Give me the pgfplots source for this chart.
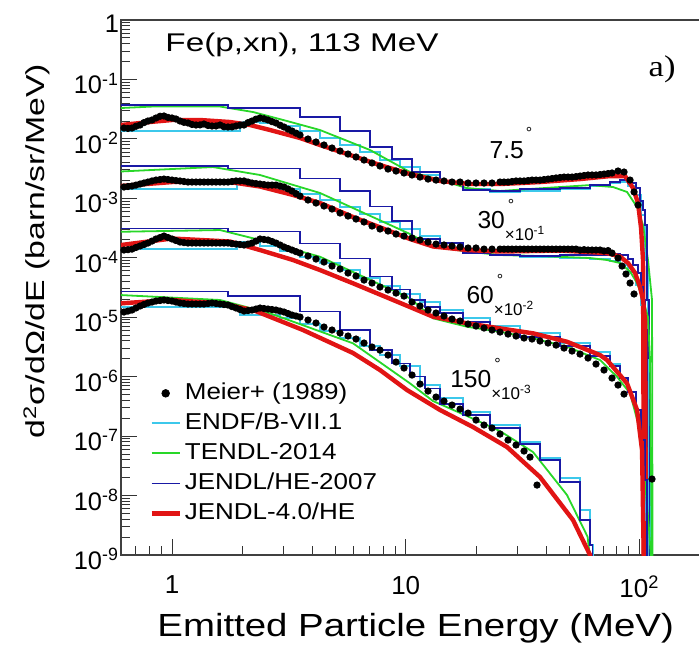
\documentclass[border=0pt]{standalone}
\usepackage{fontspec}
\setmainfont{Liberation Sans}
\newfontfamily\serifF{Liberation Serif}
\usepackage{graphicx}
\usepackage{pgfplots}
\pgfplotsset{compat=1.18}
\usetikzlibrary{calc}
\definecolor{cENDF}{RGB}{60,200,235}
\definecolor{cTENDL}{RGB}{40,215,40}
\definecolor{cJHE}{RGB}{25,25,165}
\definecolor{cJ4}{RGB}{225,20,20}
\newcommand{\W}[2]{\scalebox{#1}[1]{#2}}
\begin{document}
\begin{tikzpicture}
\begin{axis}[
  name=ax,
  xmode=log, ymode=log,
  scale only axis, width=290pt, height=267.5pt,
  xmin=0.605, xmax=183.4, ymin=1e-9, ymax=1,
  axis line style={black!75, line width=0.6pt},
  xtick={1,10,100}, xticklabels={1,10,10\textsuperscript{2}},
  minor xtick={0.7,0.8,0.9,2,3,4,5,6,7,8,9,20,30,40,50,60,70,80,90},
  ytick={1e-9,1e-8,1e-7,1e-6,1e-5,1e-4,1e-3,1e-2,1e-1,1},
  yticklabels={10\textsuperscript{-9},10\textsuperscript{-8},10\textsuperscript{-7},10\textsuperscript{-6},10\textsuperscript{-5},10\textsuperscript{-4},10\textsuperscript{-3},10\textsuperscript{-2},10\textsuperscript{-1},1},
  minor ytick={2e-9,3e-9,4e-9,5e-9,6e-9,7e-9,8e-9,9e-9,2e-8,3e-8,4e-8,5e-8,6e-8,7e-8,8e-8,9e-8,2e-7,3e-7,4e-7,5e-7,6e-7,7e-7,8e-7,9e-7,2e-6,3e-6,4e-6,5e-6,6e-6,7e-6,8e-6,9e-6,2e-5,3e-5,4e-5,5e-5,6e-5,7e-5,8e-5,9e-5,2e-4,3e-4,4e-4,5e-4,6e-4,7e-4,8e-4,9e-4,2e-3,3e-3,4e-3,5e-3,6e-3,7e-3,8e-3,9e-3,2e-2,3e-2,4e-2,5e-2,6e-2,7e-2,8e-2,9e-2,0.2,0.3,0.4,0.5,0.6,0.7,0.8,0.9},
  xtick pos=left, ytick pos=left, tick align=inside,
  major tick length=8pt, minor tick length=4.5pt,
  tick style={black!80, line width=0.5pt},
  xticklabel style={font=\fontsize{13}{14}\selectfont, yshift=-7pt},
  yticklabel style={font=\fontsize{12.7}{14}\selectfont, xshift=2.5pt, yshift=-2pt},
  xlabel={\W{1.2}{Emitted Particle Energy (MeV)}},
  xlabel style={at={(axis description cs:0.508,-0.136)}, anchor=center, font=\fontsize{16}{17}\selectfont},
  ylabel={\W{1.3}{d\textsuperscript{2}σ/dΩ/dE (barn/sr/MeV)}},
  ylabel style={at={(axis description cs:-0.145,0.568)}, anchor=center, font=\fontsize{13}{14}\selectfont},
  legend image code/.code={\draw[#1] (0pt,0pt) -- (14pt,0pt);},
  legend cell align=left,
  legend style={at={(0.0484,0.331)}, anchor=north west, draw=none, fill=none,
    inner sep=0pt, row sep=0pt, font=\fontsize{11.5}{12}\selectfont,
    nodes={inner sep=1.5pt, text height=9pt, text depth=3pt},
    /tikz/every even column/.append style={column sep=2.5pt}},
]
% ---------------- 7.5 deg ----------------
\addplot[only marks, mark=*, mark size=1.6pt, black,
  legend image code/.code={\fill[black] (7pt,0pt) circle (1.9pt);}] coordinates {
(0.623,0.01524)(0.674,0.01524)(0.730,0.01712)(0.789,0.01999)(0.854,0.02245)(0.924,0.02426)(1.000,0.02245)(1.082,0.01999)(1.171,0.01850)(1.267,0.01712)(1.370,0.01779)(1.483,0.01647)(1.605,0.01712)(1.736,0.01585)(1.879,0.01647)(2.033,0.01712)(2.200,0.01999)(2.380,0.02245)(2.575,0.02078)(2.786,0.01850)(3.015,0.01585)(3.262,0.01357)(3.530,0.01162)(3.819,0.00995)(4.132,0.00886)(4.471,0.00789)(4.838,0.00702)(5.236,0.00625)(5.665,0.00556)(6.129,0.00496)(6.632,0.00441)(7.176,0.00393)(7.762,0.00350)(8.401,0.00311)(9.089,0.00288)(9.833,0.00267)(10.64,0.00247)(11.51,0.00228)(12.46,0.00211)(13.48,0.00203)(14.58,0.00196)(15.78,0.00188)(17.08,0.00188)(18.48,0.00181)(19.99,0.00181)(21.63,0.00181)(23.40,0.00181)(25.32,0.00188)(27.40,0.00188)(29.65,0.00196)(32.08,0.00196)(34.71,0.00203)(37.56,0.00203)(40.64,0.00211)(43.97,0.00220)(47.58,0.00228)(51.48,0.00228)(55.69,0.00237)(60.26,0.00247)(65.20,0.00247)(70.55,0.00256)(76.34,0.00267)(80.98,0.00288)(85.93,0.00277)(91.18,0.00203)(94.84,0.00128)(98.63,0.000772)
(0.648,0.0150)(0.701,0.0163)(0.759,0.0188)(0.821,0.0208)(0.889,0.0240)(0.961,0.0230)(1.040,0.0216)(1.125,0.0190)(1.218,0.0175)(1.318,0.0172)(1.426,0.0168)(1.543,0.0165)(1.669,0.0160)(1.806,0.0159)(1.954,0.0170)(2.115,0.0188)(2.288,0.0215)(2.476,0.0218)(2.679,0.0195)(2.899,0.0170)(3.136,0.0146)(3.394,0.0125)
(26.34,0.00188)(28.50,0.00192)(30.84,0.00196)(33.38,0.00199)(36.11,0.00203)(39.07,0.00207)(42.27,0.00215)(45.74,0.00224)(49.49,0.00228)(53.55,0.00232)(57.94,0.00242)(62.69,0.00247)(67.85,0.00251)(73.39,0.00261)};
\addlegendentry{\W{1.13}{Meier+ (1989)}}
\addplot[const plot, cENDF, line width=1pt] coordinates {
(0.605,0.01357)(1.954,0.01923)(2.380,0.01850)(2.899,0.01647)(3.53,0.01357)(4.298,0.01035)(5.236,0.00789)(6.376,0.00601)(7.762,0.00441)(9.455,0.00336)(11.51,0.00247)(14.03,0.00188)(17.59,0.00143)(22.95,0.00128)(30.84,0.00133)(45.74,0.00143)(61.47,0.00161)(74.86,0.00181)(82.62,0.00188)(89.4,0.00161)(96.7,0.00114)(101.6,0.000524)(105.7,9.17e-5)(108.8,4.04e-7)(111.0,5e-10)};
\addlegendentry{\W{1.13}{ENDF/B-VII.1}}
\addplot[cTENDL, line width=0.9pt] coordinates {
(0.605,0.03307)(0.829,0.03505)(1.605,0.03505)(2.222,0.02833)(3.105,0.01999)(4.298,0.01410)(7.035,0.00650)(10.43,0.00277)(13.09,0.00220)(18.30,0.00149)(25.32,0.00133)(45.74,0.00155)(61.47,0.00167)(77.1,0.00155)(88.5,0.00128)(97.7,0.000714)(103.6,0.000356)(108.8,9.17e-5)(113.2,1.95e-5)(113.8,5e-10)};
\addlegendentry{\W{1.13}{TENDL-2014}}
\addplot[const plot, cJHE, line width=0.7pt] coordinates {
(0.605,0.03715)(1.736,0.03307)(3.53,0.02334)(5.236,0.01357)(7.035,0.00730)(8.738,0.00459)(10.64,0.00277)(14.03,0.00188)(17.59,0.00138)(22.95,0.00133)(30.84,0.00143)(45.74,0.00149)(61.47,0.00167)(74.86,0.00188)(82.62,0.00203)(89.4,0.00181)(96.7,0.00149)(100.6,0.000902)(103.6,0.000636)(105.7,0.000356)(107.8,1.95e-5)(109.9,5e-10)};
\addlegendentry{\W{1.13}{JENDL/HE-2007}}
\addplot[cJ4, line width=2.2pt, line join=round] coordinates {
(0.605,0.01712)(0.805,0.01923)(1.0,0.02078)(1.318,0.02078)(1.771,0.01923)(2.157,0.01712)(2.627,0.01410)(3.53,0.01035)(4.298,0.00789)(5.778,0.00536)(7.762,0.00363)(10.43,0.00256)(14.03,0.00196)(18.85,0.00174)(25.32,0.00174)(37.56,0.00188)(55.69,0.00211)(74.86,0.00237)(86.8,0.00237)(93.9,0.00149)(98.6,0.000834)(101.6,0.000317)(103.6,9.17e-5)(104.6,5e-10)};
\addlegendentry{\W{1.13}{JENDL-4.0/HE}}
% ---------------- 30 deg x 1e-1 ----------------
\addplot[only marks, mark=*, mark size=1.6pt, black, forget plot] coordinates {
(0.623,0.00155)(0.674,0.00161)(0.730,0.00174)(0.789,0.00188)(0.854,0.00203)(0.924,0.00211)(1.000,0.00203)(1.082,0.00196)(1.171,0.00188)(1.267,0.00188)(1.370,0.00188)(1.483,0.00188)(1.605,0.00188)(1.736,0.00188)(1.879,0.00196)(2.033,0.00196)(2.200,0.00181)(2.380,0.00174)(2.575,0.00167)(2.786,0.00167)(3.015,0.00155)(3.262,0.00133)(3.530,0.00109)(3.819,0.000937)(4.132,0.000834)(4.471,0.000743)(4.838,0.000661)(5.236,0.000566)(5.665,0.000504)(6.129,0.000449)(6.632,0.000400)(7.176,0.000342)(7.762,0.000305)(8.401,0.000282)(9.089,0.000251)(9.833,0.000232)(10.64,0.000215)(11.51,0.000199)(12.46,0.000184)(13.48,0.000170)(14.58,0.000164)(15.78,0.000158)(17.08,0.000152)(18.48,0.000146)(19.99,0.000146)(21.63,0.000140)(23.40,0.000140)(25.32,0.000140)(27.40,0.000140)(29.65,0.000140)(32.08,0.000140)(34.71,0.000140)(37.56,0.000140)(40.64,0.000140)(43.97,0.000140)(47.58,0.000140)(51.48,0.000140)(55.69,0.000135)(60.26,0.000135)(65.20,0.000135)(70.55,0.000130)(76.34,0.000120)(80.98,9.91e-5)(84.26,7.26e-5)(87.6,5.33e-5)(91.18,3.76e-5)(94.84,2.46e-5)
(0.648,0.00158)(0.701,0.00167)(0.759,0.00181)(0.821,0.00196)(0.889,0.00207)(0.961,0.00207)(1.040,0.00199)(1.125,0.00192)(1.218,0.00188)(1.318,0.00188)(1.426,0.00188)(1.543,0.00188)(1.669,0.00188)(1.806,0.00192)(1.954,0.00196)(2.115,0.00188)(2.288,0.00177)(2.476,0.00170)(2.679,0.00167)(2.899,0.00161)(3.136,0.00144)(3.394,0.00120)
(26.34,0.000140)(28.50,0.000140)(30.84,0.000140)(33.38,0.000140)(36.11,0.000140)(39.07,0.000140)(42.27,0.000140)(45.74,0.000140)(49.49,0.000140)(53.55,0.000140)(57.94,0.000137)(62.69,0.000135)(67.85,0.000135)(73.39,0.000132)};
\addplot[const plot, cENDF, line width=1pt, forget plot] coordinates {
(0.605,0.00143)(1.897,0.00181)(2.380,0.00167)(2.899,0.00143)(3.53,0.00118)(4.298,0.000937)(5.236,0.000714)(6.376,0.000545)(7.762,0.000400)(9.455,0.000305)(11.51,0.000232)(14.03,0.000177)(17.59,0.000135)(22.95,0.0001113)(30.84,0.0001030)(45.74,9.91e-5)(61.47,9.53e-5)(74.86,8.82e-5)(82.62,7.55e-5)(89.4,5.76e-5)(96.7,3.48e-5)(101.6,1.604e-5)(105.7,1.904e-6)(108.8,5e-10)};
\addplot[cTENDL, line width=0.9pt, forget plot] coordinates {
(0.605,0.00283)(1.497,0.00336)(2.380,0.00247)(4.298,0.00123)(10.43,0.000251)(13.09,0.000155)(18.30,0.0001274)(25.32,0.0001113)(37.56,0.0001070)(61.47,9.91e-5)(72.7,9.17e-5)(82.62,8.16e-5)(91.18,5.87e-5)(97.7,3.76e-5)(103.6,1.95e-5)(108.8,1.007e-5)(111.0,1.904e-6)(113.2,5e-10)};
\addplot[const plot, cJHE, line width=0.7pt, forget plot] coordinates {
(0.605,0.00350)(1.736,0.00320)(3.53,0.00217)(5.236,0.00133)(7.035,0.000722)(8.738,0.000415)(10.64,0.000207)(14.03,0.000177)(17.59,0.000120)(22.95,0.0001113)(30.84,0.0001070)(45.74,0.0001113)(61.47,0.0001113)(74.86,0.0001157)(82.62,0.0001113)(89.4,9.53e-5)(93.9,7.55e-5)(98.6,5.54e-5)(101.6,3.22e-5)(103.6,1.95e-5)(105.7,6.09e-6)(107.8,5e-10)};
\addplot[cJ4, line width=2.2pt, line join=round, forget plot] coordinates {
(0.605,0.00161)(1.0,0.00188)(1.771,0.00188)(2.380,0.00158)(3.295,0.00114)(4.298,0.000834)(5.95,0.000485)(8.318,0.000293)(10.43,0.000207)(13.09,0.000155)(18.30,0.000135)(25.32,0.0001274)(45.74,0.0001324)(72.7,0.000120)(82.62,0.0001050)(89.4,8.16e-5)(95.8,5.54e-5)(100.6,3.22e-5)(103.6,1.95e-5)(105.7,8.97e-6)(106.7,5e-10)};
% ---------------- 60 deg x 1e-2 ----------------
\addplot[only marks, mark=*, mark size=1.6pt, black, forget plot] coordinates {
(0.623,0.000135)(0.674,0.000140)(0.730,0.000158)(0.789,0.000177)(0.854,0.000207)(0.924,0.000232)(1.000,0.000207)(1.082,0.000184)(1.171,0.000177)(1.267,0.000177)(1.370,0.000177)(1.483,0.000177)(1.605,0.000177)(1.736,0.000177)(1.879,0.000170)(2.033,0.000164)(2.200,0.000177)(2.380,0.000207)(2.575,0.000199)(2.786,0.000177)(3.015,0.000152)(3.262,0.000135)(3.530,0.000120)(3.819,0.000107)(4.132,9.53e-5)(4.471,8.48e-5)(4.838,7.26e-5)(5.236,6.47e-5)(5.665,5.54e-5)(6.129,4.93e-5)(6.632,4.22e-5)(7.176,3.76e-5)(7.762,3.22e-5)(8.401,2.87e-5)(9.089,2.55e-5)(9.833,2.27e-5)(10.64,1.801e-5)(11.51,1.543e-5)(12.46,1.321e-5)(13.48,1.176e-5)(14.58,1.047e-5)(15.78,9.32e-6)(17.08,8.63e-6)(18.48,7.68e-6)(19.99,7.11e-6)(21.63,6.58e-6)(23.40,6.09e-6)(25.32,5.63e-6)(27.40,5.21e-6)(29.65,4.83e-6)(32.08,4.47e-6)(34.71,4.30e-6)(37.56,3.98e-6)(40.64,3.68e-6)(43.97,3.40e-6)(47.58,3.03e-6)(51.48,2.70e-6)(55.69,2.40e-6)(60.26,2.06e-6)(65.20,1.631e-6)(70.55,1.293e-6)(76.34,9.48e-7)(80.98,7.23e-7)(85.93,5.10e-7)(113.2,1.896e-8)
(0.648,0.000137)(0.701,0.000149)(0.759,0.000167)(0.821,0.000191)(0.889,0.000219)(0.961,0.000219)(1.040,0.000195)(1.125,0.000180)(1.218,0.000177)(1.318,0.000177)(1.426,0.000177)(1.543,0.000177)(1.669,0.000177)(1.806,0.000173)(1.954,0.000167)(2.115,0.000170)(2.288,0.000191)(2.476,0.000203)(2.679,0.000188)(2.899,0.000164)(3.136,0.000143)(3.394,0.000127)};
\addplot[const plot, cENDF, line width=1pt, forget plot] coordinates {
(0.605,0.000140)(1.897,0.000184)(2.380,0.000158)(2.899,0.000130)(3.53,0.0001030)(4.298,8.16e-5)(5.236,6.22e-5)(6.376,4.56e-5)(7.762,3.35e-5)(9.455,2.46e-5)(11.51,1.801e-5)(14.03,1.321e-5)(17.59,9.69e-6)(22.95,7.11e-6)(30.84,5.42e-6)(45.74,3.68e-6)(61.47,2.60e-6)(74.86,1.631e-6)(82.62,9.48e-7)(89.4,5.51e-7)(96.7,2.26e-7)(101.6,4.80e-8)(105.7,3.87e-9)(107.8,5e-10)};
\addplot[cTENDL, line width=0.9pt, forget plot] coordinates {
(0.605,0.000274)(1.605,0.000293)(2.380,0.000199)(4.298,0.0001042)(10.43,2.08e-5)(13.09,9.58e-6)(18.30,6.92e-6)(25.32,5.70e-6)(35.05,4.41e-6)(49.0,3.19e-6)(67.85,1.904e-6)(80.2,9.97e-7)(91.18,5.24e-7)(98.6,1.660e-7)(104.6,2.69e-8)(110,2.63e-9)(113.2,5e-10)};
\addplot[const plot, cJHE, line width=0.7pt, forget plot] coordinates {
(0.605,0.000313)(1.736,0.000274)(3.53,0.000175)(5.236,9.79e-5)(7.035,4.80e-5)(8.738,2.95e-5)(10.43,1.95e-5)(12.09,1.484e-5)(14.03,1.176e-5)(17.59,8.30e-6)(22.95,6.09e-6)(30.84,4.64e-6)(45.74,3.27e-6)(61.47,2.22e-6)(74.86,1.510e-6)(82.62,9.48e-7)(89.4,5.51e-7)(96.7,2.75e-7)(101.6,8.59e-8)(105.7,1.824e-8)(107.8,5e-10)};
\addplot[cJ4, line width=2.2pt, line join=round, forget plot] coordinates {
(0.605,0.000164)(1.0,0.000211)(1.771,0.0001877)(2.380,0.000135)(3.295,9.17e-5)(4.298,6.22e-5)(5.95,3.72e-5)(10.43,1.484e-5)(13.09,1.020e-5)(18.30,7.89e-6)(25.32,6.50e-6)(35.05,5.36e-6)(49.0,3.87e-6)(67.85,2.31e-6)(72.7,1.904e-6)(88.5,7.72e-7)(97.7,2.75e-7)(102.6,5.83e-8)(104.6,5e-10)};
% ---------------- 150 deg x 1e-3 ----------------
\addplot[only marks, mark=*, mark size=1.6pt, black, forget plot] coordinates {
(0.623,1.223e-5)(0.674,1.321e-5)(0.730,1.543e-5)(0.789,1.733e-5)(0.854,1.873e-5)(0.924,1.95e-5)(1.000,1.873e-5)(1.082,1.733e-5)(1.171,1.667e-5)(1.267,1.667e-5)(1.370,1.667e-5)(1.483,1.733e-5)(1.605,1.667e-5)(1.736,1.604e-5)(1.879,1.428e-5)(2.033,1.271e-5)(2.200,1.321e-5)(2.380,1.428e-5)(2.575,1.373e-5)(2.786,1.321e-5)(3.015,1.223e-5)(3.262,1.088e-5)(3.530,1.007e-5)(3.819,8.97e-6)(4.132,7.99e-6)(4.471,6.84e-6)(4.838,6.09e-6)(5.236,5.42e-6)(5.665,4.83e-6)(6.129,4.30e-6)(6.632,3.68e-6)(7.176,3.15e-6)(7.762,2.80e-6)(8.401,2.31e-6)(9.089,1.763e-6)(9.833,1.397e-6)(10.64,1.065e-6)(11.51,7.52e-7)(12.46,5.73e-7)(13.48,4.54e-7)(14.58,3.89e-7)(15.78,3.33e-7)(17.08,2.85e-7)(18.48,2.44e-7)(19.99,1.864e-7)(21.63,1.536e-7)(23.40,1.367e-7)(25.32,1.083e-7)(27.40,8.59e-8)(29.65,7.08e-8)(32.08,5.61e-8)(34.03,4.44e-8)(36.46,1.502e-8)
(0.648,1.27e-5)(0.701,1.43e-5)(0.759,1.64e-5)(0.821,1.80e-5)(0.889,1.91e-5)(0.961,1.91e-5)(1.040,1.80e-5)(1.125,1.70e-5)(1.218,1.667e-5)(1.318,1.667e-5)(1.426,1.70e-5)(1.543,1.70e-5)(1.669,1.635e-5)(1.806,1.51e-5)(1.954,1.35e-5)(2.115,1.295e-5)(2.288,1.373e-5)(2.476,1.40e-5)(2.679,1.347e-5)(2.899,1.271e-5)(3.136,1.153e-5)(3.394,1.047e-5)};
\addplot[const plot, cENDF, line width=1pt, forget plot] coordinates {
(0.605,1.502e-5)(1.954,1.088e-5)(2.899,9.69e-6)(3.53,7.68e-6)(4.298,5.86e-6)(5.236,4.47e-6)(6.376,3.27e-6)(7.762,2.31e-6)(9.455,1.510e-6)(11.51,7.23e-7)(14.03,4.37e-7)(17.59,2.54e-7)(22.95,1.536e-7)(30.84,7.95e-8)(37.56,4.28e-8)(45.74,1.970e-8)(55.69,5.71e-9)(61.47,1.470e-9)(63,5e-10)};
\addplot[cTENDL, line width=0.9pt, forget plot] coordinates {
(0.605,2.36e-5)(1.605,1.95e-5)(2.627,1.163e-5)(5.95,3.64e-6)(10.43,7.72e-7)(13.09,3.89e-7)(18.30,2.18e-7)(25.32,1.217e-7)(35.05,5.40e-8)(49.0,1.02e-8)(60.0,2.03e-9)(62.5,5e-10)};
\addplot[const plot, cJHE, line width=0.7pt, forget plot] coordinates {
(0.605,2.69e-5)(1.736,2.27e-5)(3.53,1.237e-5)(5.236,6.09e-6)(7.035,2.80e-6)(8.738,1.676e-6)(10.43,9.97e-7)(12.09,6.36e-7)(14.03,3.46e-7)(17.59,2.26e-7)(22.95,1.367e-7)(30.84,7.36e-8)(37.56,3.96e-8)(45.74,1.688e-8)(55.69,3.87e-9)(61.47,1.470e-9)(63,5e-10)};
\addplot[cJ4, line width=2.2pt, line join=round, forget plot] coordinates {
(0.605,1.713e-5)(1.0,1.95e-5)(1.605,1.713e-5)(2.222,1.321e-5)(3.636,6.09e-6)(5.95,2.50e-6)(7.762,1.293e-6)(10.13,5.96e-7)(14.03,2.75e-7)(19.41,1.421e-7)(27.14,6.55e-8)(37.56,2.05e-8)(51.99,3.87e-9)(61.47,1.0e-9)(62.5,5e-10)};
% ---------------- texts ----------------
\node[anchor=west, inner sep=0pt, font=\fontsize{12.8}{13}\selectfont] at (rel axis cs:0.076,0.953) {\W{1.3}{Fe(p,xn), 113 MeV}};
\node[anchor=center, inner sep=0pt, font=\serifF\fontsize{15}{15}\selectfont] at (rel axis cs:0.933,0.907) {\W{1.15}{a)}};
\node[anchor=base west, inner sep=0pt, font=\fontsize{12.3}{13}\selectfont] at (rel axis cs:0.635,0.742) {7.5\rlap{\hspace{1pt}\raisebox{10pt}{\fontsize{8}{8}\selectfont °}}};
\node[anchor=base west, inner sep=0pt, font=\fontsize{12.3}{13}\selectfont] at (rel axis cs:0.614,0.611) {30\rlap{\hspace{1.5pt}\raisebox{9pt}{\fontsize{8}{8}\selectfont °}}\raisebox{-6pt}{\fontsize{8.5}{9}\selectfont ×10\textsuperscript{-1}}};
\node[anchor=base west, inner sep=0pt, font=\fontsize{12.3}{13}\selectfont] at (rel axis cs:0.595,0.471) {60\rlap{\hspace{1.5pt}\raisebox{9pt}{\fontsize{8}{8}\selectfont °}}\raisebox{-6pt}{\fontsize{8.5}{9}\selectfont ×10\textsuperscript{-2}}};
\node[anchor=base west, inner sep=0pt, font=\fontsize{12.3}{13}\selectfont] at (rel axis cs:0.567,0.314) {150\rlap{\hspace{1.5pt}\raisebox{9pt}{\fontsize{8}{8}\selectfont °}}\raisebox{-6pt}{\fontsize{8.5}{9}\selectfont ×10\textsuperscript{-3}}};
\end{axis}
\pgfresetboundingbox
\path[use as bounding box] ($(ax.south west)+(-60.5pt,-49.5pt)$) rectangle ($(ax.north east)+(-1pt,10pt)$);
\end{tikzpicture}
\end{document}
